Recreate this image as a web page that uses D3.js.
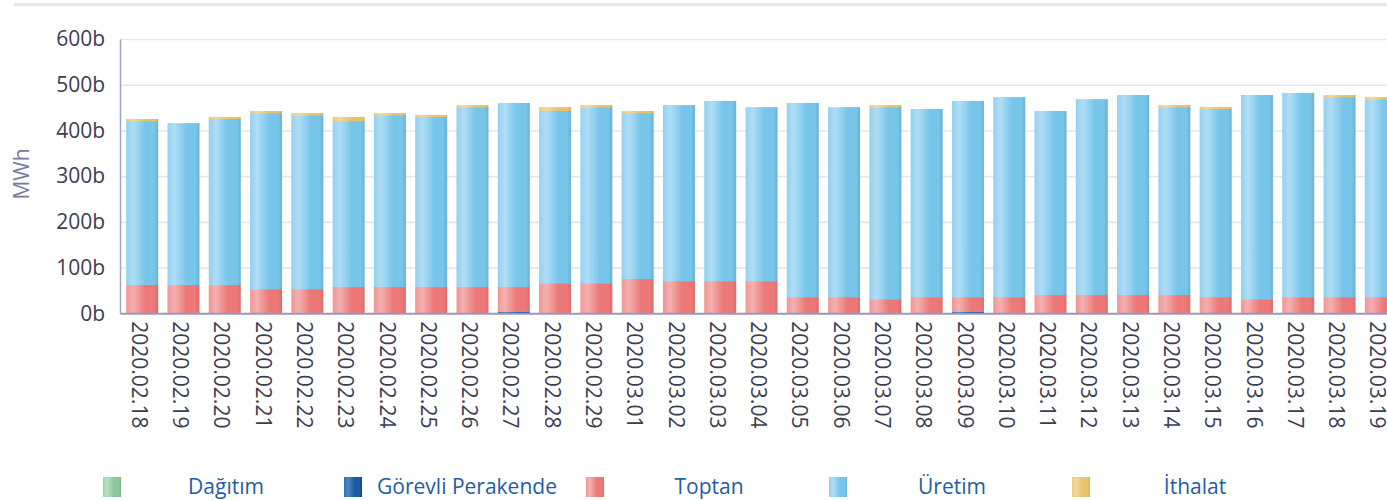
<!DOCTYPE html>
<html>
<head>
<meta charset="utf-8">
<script src="https://d3js.org/d3.v7.min.js"></script>
<style>
  body { margin: 0; background: #fff; overflow: hidden; }
  svg { display: block; font-family: "Open Sans", sans-serif; }
</style>
</head>
<body>
<div id="chart"></div>
<script>
// dates on the x axis
var dates = ["2020.02.18","2020.02.19","2020.02.20","2020.02.21","2020.02.22","2020.02.23","2020.02.24",
	"2020.02.25","2020.02.26","2020.02.27","2020.02.28","2020.02.29","2020.03.01","2020.03.02","2020.03.03",
	"2020.03.04","2020.03.05","2020.03.06","2020.03.07","2020.03.08","2020.03.09","2020.03.10","2020.03.11",
	"2020.03.12","2020.03.13","2020.03.14","2020.03.15","2020.03.16","2020.03.17","2020.03.18","2020.03.19"]

// series values (b MWh)
var dagitim = [0,0,0,0,0,0,0,0,0,0,0,0,0,0,0,0,0,0,0,0,0,0,0,0,0,0,0,0,0,0,0]
var gorevli = [0,0,0,0,0,0,0,0,0,4,0,0,0,0,0,0,0,0,0,0,4,0,0,0,0,0,0,0,0,0,0]
var toptan  = [62,62,62,53,53,57.5,57.5,57.5,57.5,53.5,66,66,75,70.5,70.5,70.5,35.5,35.5,31,35.5,31.5,35.5,40,40,40,40,35.5,31,35.5,35.5,35.5]
var uretim  = [358.5,354,363,385,380.5,363,376,372,393.5,402.5,376.5,385,363,385,394,380.5,424.5,415.5,420,411.5,429,437.5,402.5,428.5,437.5,411,411.5,446.5,446.5,437.5,433]
var ithalat = [4.5,0,4.5,4.5,4.5,9,4.5,4.5,4.5,0,8.5,4.5,4.5,0,0,0,0,0,4.5,0,0,0,0,0,0,4.5,4.5,0,0,4.5,4.5]

var seriesNames = ["Dağıtım","Görevli Perakende","Toptan","Üretim","İthalat"]
var yTicks = [0,100,200,300,400,500,600]

const width = 1387
const height = 500

const padding = { top: 39, right: -16, bottom: 187, left: 120 }
const plotBottom = height - padding.bottom + 0.3

var keys = ["dagitim","gorevli","toptan","uretim","ithalat"]
var rows = dates.map(function(d, i){
	return { date: d, dagitim: dagitim[i], gorevli: gorevli[i], toptan: toptan[i], uretim: uretim[i], ithalat: ithalat[i] }
})

// colours per series: [left, highlight, main, right edge]
var colors = {
	dagitim: ["#9fd3a9","#b9e2c0","#8cc79a","#7bb588"],
	gorevli: ["#2f70b8","#4a86c8","#1a5aa0","#0f4686"],
	toptan:  ["#ef9696","#f4b0b0","#ec7878","#dd6c6c"],
	uretim:  ["#94d0f0","#b0def5","#78c5ea","#68b0d8"],
	ithalat: ["#ecc97c","#f2d89c","#e8c26c","#d8b060"]
}

const xScale = d3.scaleBand().domain(dates)
	.range([padding.left, width - padding.right])
	.paddingInner(0.225).paddingOuter(0.15)
const yScale = d3.scaleLinear().domain([0, 600]).range([plotBottom, padding.top])

var svg = d3.select("#chart").append("svg")
	.attr("width", width)
	.attr("height", height)

var defs = svg.append("defs")
keys.forEach(function(k){
	var g = defs.append("linearGradient").attr("id", "g-" + k)
		.attr("x1", "0%").attr("x2", "100%").attr("y1", "0%").attr("y2", "0%")
	g.append("stop").attr("offset", "0%").attr("stop-color", colors[k][0])
	g.append("stop").attr("offset", "22%").attr("stop-color", colors[k][1])
	g.append("stop").attr("offset", "60%").attr("stop-color", colors[k][2])
	g.append("stop").attr("offset", "88%").attr("stop-color", colors[k][2])
	g.append("stop").attr("offset", "100%").attr("stop-color", colors[k][3])
})

// grey strip on top
svg.append("rect").attr("x", 14).attr("y", 3).attr("width", width - 14).attr("height", 3).attr("fill", "#e5e5ec")

// gridlines
svg.append("g")
	.attr("transform", "translate(" + padding.left + ",0)")
	.call(d3.axisLeft(yScale).tickValues(yTicks.slice(1)).tickSize(-(width - padding.left)).tickFormat(""))
	.call(function(g){ g.select(".domain").remove() })
	.selectAll("line").attr("stroke", "#e6e6ee").attr("stroke-width", 1.6)

// stacked bars
var stack = d3.stack().keys(keys)(rows)

svg.append("g").selectAll("g")
	.data(stack)
	.enter()
	.append("g")
	.attr("fill", d => "url(#g-" + d.key + ")")
	.selectAll("rect")
	.data(d => d.filter(p => p[1] - p[0] > 0))
	.enter()
	.append("rect")
	.attr("x", d => xScale(d.data.date))
	.attr("width", xScale.bandwidth())
	.attr("y", d => yScale(d[1]))
	.attr("height", d => yScale(d[0]) - yScale(d[1]))

// y axis
var yAxis = svg.append("g")
	.attr("transform", "translate(" + padding.left + ",0)")
	.call(d3.axisLeft(yScale).tickValues(yTicks).tickSize(0).tickPadding(15).tickFormat(d => d + "b"))
yAxis.select(".domain").attr("stroke", "#a2a2c2").attr("stroke-width", 1.5)
yAxis.selectAll("text").attr("fill", "#3d3d52").style("font-size", "21px").style("font-family", "Open Sans")

// x axis
var xAxis = svg.append("g")
	.attr("transform", "translate(0," + plotBottom + ")")
	.call(d3.axisBottom(xScale).tickSize(0).tickPadding(0))
xAxis.select(".domain").attr("stroke", "#9a9ab8").attr("stroke-width", 2)
xAxis.selectAll("text")
	.attr("fill", "#3d3d52")
	.style("font-size", "21px")
	.style("font-family", "Open Sans")
	.attr("text-anchor", "start")
	.attr("transform", "translate(-3,8) rotate(90)")
	.attr("x", 0).attr("y", 0).attr("dy", "0.35em")

// axis title
svg.append("text")
	.attr("transform", "translate(29,174) rotate(-90)")
	.attr("text-anchor", "middle")
	.attr("fill", "#7a7aa0")
	.style("font-size", "21px")
	.text("MWh")

// legend
var legendX = [103, 344, 586, 829, 1072]
var legend = svg.append("g").selectAll("g")
	.data(keys)
	.enter()
	.append("g")
	.attr("transform", (d, i) => "translate(" + legendX[i] + ",477)")

legend.append("rect")
	.attr("width", 18).attr("height", 20)
	.attr("fill", d => "url(#g-" + d + ")")

legend.append("text")
	.attr("x", 123).attr("y", 10).attr("dy", "0.35em")
	.attr("text-anchor", "middle")
	.attr("fill", "#1f5ca6")
	.style("font-size", "21px")
	.text((d, i) => seriesNames[i])
</script>
</body>
</html>
